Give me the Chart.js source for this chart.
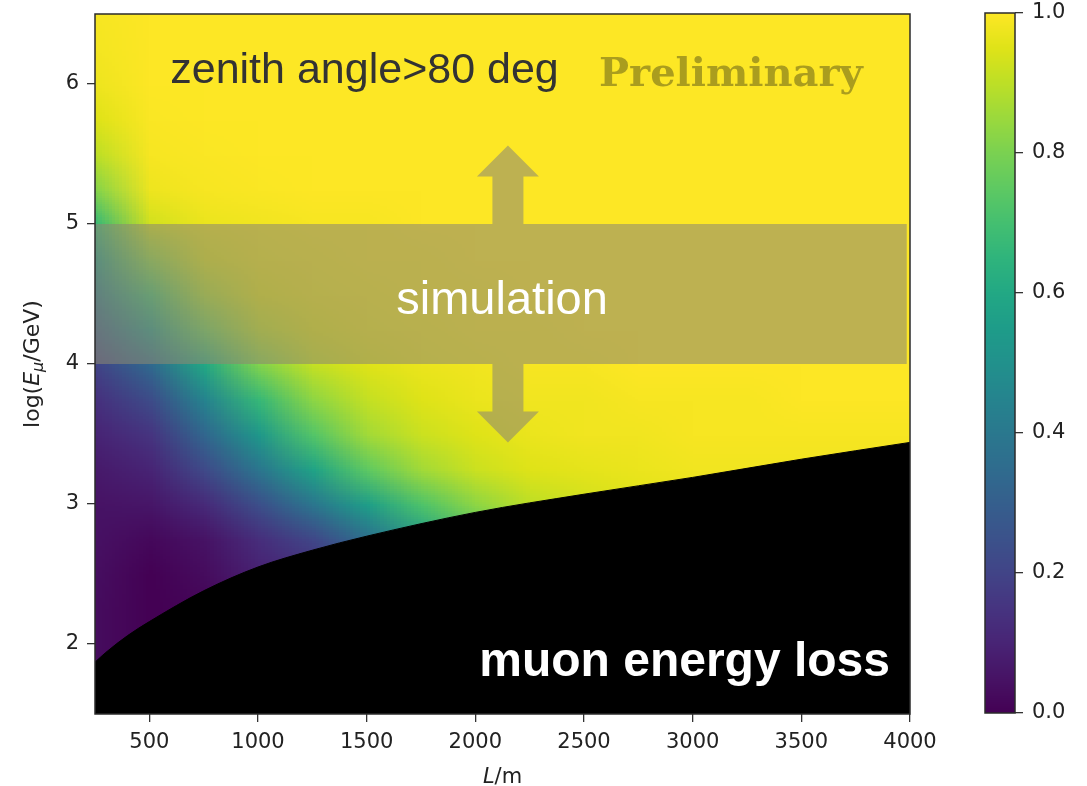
<!DOCTYPE html>
<html>
<head>
<meta charset="utf-8">
<script src="https://cdn.jsdelivr.net/npm/chart.js@4.4.1/dist/chart.umd.min.js"></script>
<style>
  html, body { margin: 0; padding: 0; background: #ffffff; }
  #wrap { position: relative; width: 1087px; height: 786px; }
  #main { position: absolute; left: 0; top: 0; }
  #cbar { position: absolute; left: 975px; top: 0; }
</style>
</head>
<body>
<div id="wrap">
  <canvas id="main" width="1087" height="786"></canvas>
  <canvas id="cbar" width="112" height="786"></canvas>
</div>
<script>
// Path length through rock, L (m): one column per value
const pathLength = [250, 500, 750, 1000, 1250, 1500, 1750, 2000, 2250, 2500, 2750, 3000, 3250, 3500, 3750, 4000];
// log10(E_mu / GeV): one row per value, top row first
const logEnergy = [6.5, 6.25, 6.0, 5.75, 5.5, 5.25, 5.0, 4.75, 4.5, 4.25, 4.0, 3.75, 3.5, 3.25, 3.0, 2.75, 2.5, 2.25, 2.0, 1.75, 1.5];
// Survival fraction on the (logEnergy x pathLength) grid
const survival = [
  [0.99, 1.00, 1.00, 1.00, 1.00, 1.00, 1.00, 1.00, 1.00, 1.00, 1.00, 1.00, 1.00, 1.00, 1.00, 1.00],
  [0.985, 1.00, 1.00, 1.00, 1.00, 1.00, 1.00, 1.00, 1.00, 1.00, 1.00, 1.00, 1.00, 1.00, 1.00, 1.00],
  [0.975, 1.00, 1.00, 1.00, 1.00, 1.00, 1.00, 1.00, 1.00, 1.00, 1.00, 1.00, 1.00, 1.00, 1.00, 1.00],
  [0.95, 0.995, 1.00, 1.00, 1.00, 1.00, 1.00, 1.00, 1.00, 1.00, 1.00, 1.00, 1.00, 1.00, 1.00, 1.00],
  [0.90, 0.99, 0.995, 1.00, 1.00, 1.00, 1.00, 1.00, 1.00, 1.00, 1.00, 1.00, 1.00, 1.00, 1.00, 1.00],
  [0.82, 0.975, 0.99, 0.995, 1.00, 1.00, 1.00, 1.00, 1.00, 1.00, 1.00, 1.00, 1.00, 1.00, 1.00, 1.00],
  [0.67, 0.93, 0.97, 0.98, 0.99, 0.99, 1.00, 1.00, 1.00, 1.00, 1.00, 1.00, 1.00, 1.00, 1.00, 1.00],
  [0.53, 0.82, 0.94, 0.97, 0.98, 0.99, 0.99, 1.00, 1.00, 1.00, 1.00, 1.00, 1.00, 1.00, 1.00, 1.00],
  [0.41, 0.68, 0.87, 0.95, 0.97, 0.98, 0.99, 0.99, 1.00, 1.00, 1.00, 1.00, 1.00, 1.00, 1.00, 1.00],
  [0.30, 0.52, 0.77, 0.90, 0.95, 0.97, 0.98, 0.99, 0.99, 1.00, 1.00, 1.00, 1.00, 1.00, 1.00, 1.00],
  [0.20, 0.34, 0.60, 0.81, 0.91, 0.95, 0.97, 0.98, 0.99, 0.99, 1.00, 1.00, 1.00, 1.00, 1.00, 1.00],
  [0.14, 0.23, 0.45, 0.67, 0.83, 0.91, 0.95, 0.97, 0.98, 0.98, 0.99, 0.99, 0.99, 1.00, 1.00, 1.00],
  [0.10, 0.15, 0.33, 0.53, 0.73, 0.86, 0.92, 0.95, 0.97, 0.98, 0.98, 0.99, 0.99, 0.99, 0.99, 0.99],
  [0.07, 0.10, 0.22, 0.39, 0.58, 0.75, 0.86, 0.92, 0.95, 0.96, 0.97, 0.98, 0.98, 0.98, 0.98, 0.98],
  [0.05, 0.06, 0.12, 0.24, 0.39, 0.56, 0.72, 0.83, 0.90, 0.93, 0.95, 0.96, 0.97, 0.97, 0.97, 0.97],
  [0.045, 0.02, 0.05, 0.13, 0.21, 0.36, 0.54, 0.70, 0.80, 0.87, 0.91, 0.93, 0.94, 0.95, 0.95, 0.95],
  [0.035, 0.00, 0.03, 0.09, 0.12, 0.20, 0.36, 0.50, 0.65, 0.75, 0.82, 0.87, 0.90, 0.92, 0.93, 0.93],
  [0.03, 0.00, 0.01, 0.04, 0.06, 0.10, 0.20, 0.32, 0.45, 0.60, 0.70, 0.77, 0.82, 0.86, 0.88, 0.90],
  [0.03, 0.00, 0.00, 0.01, 0.02, 0.05, 0.10, 0.18, 0.28, 0.40, 0.50, 0.60, 0.70, 0.75, 0.80, 0.83],
  [0.03, 0.00, 0.00, 0.00, 0.00, 0.02, 0.05, 0.10, 0.15, 0.25, 0.35, 0.45, 0.55, 0.62, 0.70, 0.75],
  [0.03, 0.00, 0.00, 0.00, 0.00, 0.00, 0.02, 0.05, 0.08, 0.15, 0.22, 0.30, 0.40, 0.50, 0.58, 0.65]
];
// Minimum energy needed to cross the rock (energy-loss threshold)
const lossL    = [250, 300, 400, 500, 750, 1000, 1250, 1500, 2000, 2500, 3000, 3500, 4000];
const lossLogE = [1.87, 1.94, 2.06, 2.16, 2.38, 2.55, 2.67, 2.77, 2.94, 3.07, 3.19, 3.32, 3.44];

const xTicks  = [500, 1000, 1500, 2000, 2500, 3000, 3500, 4000];
const yTicks  = [2, 3, 4, 5, 6];
const cbTicks = [0.0, 0.2, 0.4, 0.6, 0.8, 1.0];

// viridis colormap stops (0 .. 1 in steps of 0.05)
const VIRIDIS = ['#440154','#471365','#482475','#463480','#414487','#3b528b','#355f8d',
  '#2f6c8e','#2a788e','#25848e','#21918c','#1e9c89','#22a884','#2fb47c','#44bf70',
  '#5ec962','#7ad151','#9bd93c','#bddf26','#dfe318','#fde725'];
const hexRgb = h => [1, 3, 5].map(k => parseInt(h.slice(k, k + 2), 16));
const VIR_RGB = VIRIDIS.map(hexRgb);
function viridis(t) {
  t = Math.max(0, Math.min(1, t));
  const n = VIR_RGB.length - 1, f = t * n;
  const i = Math.min(n - 1, Math.floor(f)), u = f - i;
  const a = VIR_RGB[i], b = VIR_RGB[i + 1];
  return [0, 1, 2].map(k => Math.round(a[k] + (b[k] - a[k]) * u));
}

// One pixel per grid cell; the browser smooths it when scaled onto the plot
const heatImg = document.createElement('canvas');
heatImg.width = pathLength.length;
heatImg.height = logEnergy.length;
(function () {
  const hctx = heatImg.getContext('2d');
  const img = hctx.createImageData(heatImg.width, heatImg.height);
  for (let j = 0; j < logEnergy.length; j++) {
    for (let i = 0; i < pathLength.length; i++) {
      const c = viridis(survival[j][i]);
      const p = (j * heatImg.width + i) * 4;
      img.data[p] = c[0]; img.data[p + 1] = c[1]; img.data[p + 2] = c[2]; img.data[p + 3] = 255;
    }
  }
  hctx.putImageData(img, 0, 0);
})();

const FONT = "'DejaVu Sans', sans-serif";
const TICK_FONT = { family: FONT, size: 21 };
const BAND_COLOR = 'rgba(140,135,115,0.57)';

// keep the plot box fixed: no extra room for overhanging tick labels
function noOverhang(s) {
  s.paddingTop = 0; s.paddingBottom = 0; s.paddingLeft = 0; s.paddingRight = 0;
}

const heatmapLayer = {
  id: 'heatmapLayer',
  beforeDatasetsDraw(chart) {
    const { ctx, chartArea: a, scales: { x, y } } = chart;
    const dL = pathLength[1] - pathLength[0];
    const dE = logEnergy[0] - logEnergy[1];
    const x0 = x.getPixelForValue(pathLength[0] - dL / 2);
    const x1 = x.getPixelForValue(pathLength[pathLength.length - 1] + dL / 2);
    const y0 = y.getPixelForValue(logEnergy[0] + dE / 2);
    const y1 = y.getPixelForValue(logEnergy[logEnergy.length - 1] - dE / 2);
    ctx.save();
    ctx.beginPath();
    ctx.rect(a.left, a.top, a.width, a.height);
    ctx.clip();
    ctx.imageSmoothingEnabled = true;
    ctx.imageSmoothingQuality = 'low';
    ctx.drawImage(heatImg, x0, y0, x1 - x0, y1 - y0);
    ctx.restore();
  }
};

// Simulation band, arrows and labels on top of the map
const annotationLayer = {
  id: 'annotationLayer',
  afterDatasetsDraw(chart) {
    const { ctx, chartArea: a, scales: { x, y } } = chart;
    ctx.save();
    ctx.beginPath();
    ctx.rect(a.left, a.top, a.width, a.height);
    ctx.clip();

    // band over 4 < log E < 5
    const bx0 = x.getPixelForValue(250), bx1 = x.getPixelForValue(3985);
    const by0 = y.getPixelForValue(5), by1 = y.getPixelForValue(4);
    ctx.fillStyle = BAND_COLOR;
    ctx.fillRect(bx0, by0, bx1 - bx0, by1 - by0);

    // up / down arrows
    const ax = x.getPixelForValue(2150);
    const shaft = 15.5, head = 31;
    function arrow(base, neck, tip) {
      const yb = y.getPixelForValue(base), yn = y.getPixelForValue(neck), yt = y.getPixelForValue(tip);
      ctx.beginPath();
      ctx.moveTo(ax - shaft, yb);
      ctx.lineTo(ax - shaft, yn);
      ctx.lineTo(ax - head, yn);
      ctx.lineTo(ax, yt);
      ctx.lineTo(ax + head, yn);
      ctx.lineTo(ax + shaft, yn);
      ctx.lineTo(ax + shaft, yb);
      ctx.closePath();
      ctx.fill();
    }
    arrow(5, 5.34, 5.56);
    arrow(4, 3.66, 3.44);

    // labels
    ctx.textBaseline = 'alphabetic';
    ctx.textAlign = 'center';
    ctx.fillStyle = '#333333';
    ctx.font = "43px 'Liberation Sans', Arial, sans-serif";
    ctx.fillText('zenith angle>80 deg', x.getPixelForValue(1490), y.getPixelForValue(6.007));

    ctx.fillStyle = 'rgb(170,157,30)';
    ctx.font = "bold 40px 'DejaVu Serif', serif";
    ctx.fillText('Preliminary', x.getPixelForValue(3176), y.getPixelForValue(5.985));

    ctx.fillStyle = '#ffffff';
    ctx.font = "47px 'Liberation Sans', Arial, sans-serif";
    ctx.fillText('simulation', x.getPixelForValue(2123), y.getPixelForValue(4.357));

    ctx.textAlign = 'right';
    ctx.font = "bold 48px 'Liberation Sans', Arial, sans-serif";
    ctx.fillText('muon energy loss', x.getPixelForValue(3908), y.getPixelForValue(1.77));
    ctx.restore();
  },
  afterDraw(chart) {
    const { ctx, chartArea: a } = chart;
    ctx.save();
    ctx.strokeStyle = '#2b2b2b';
    ctx.lineWidth = 1.5;
    ctx.strokeRect(a.left, a.top, a.width, a.height);

    // axis titles with italic symbols
    ctx.fillStyle = '#222222';
    ctx.textBaseline = 'alphabetic';
    ctx.textAlign = 'left';
    function runs(parts, cx, cy) {
      let total = 0;
      parts.forEach(p => { ctx.font = p.font; p.w = ctx.measureText(p.t).width; total += p.w; });
      let px = cx - total / 2;
      parts.forEach(p => { ctx.font = p.font; ctx.fillText(p.t, px, cy + (p.dy || 0)); px += p.w; });
    }
    const cx = (a.left + a.right) / 2;
    runs([
      { t: 'L', font: 'italic 21px ' + FONT },
      { t: '/m', font: '21px ' + FONT }
    ], cx, 783);

    ctx.save();
    ctx.translate(39, (a.top + a.bottom) / 2);
    ctx.rotate(-Math.PI / 2);
    runs([
      { t: 'log(', font: '22px ' + FONT },
      { t: 'E', font: 'italic 22px ' + FONT },
      { t: 'μ', font: 'italic 16px ' + FONT, dy: 4 },
      { t: '/GeV)', font: '22px ' + FONT }
    ], 0, 0);
    ctx.restore();
    ctx.restore();
  }
};

new Chart(document.getElementById('main'), {
  type: 'line',
  data: {
    datasets: [{
      data: lossL.map((v, i) => ({ x: v, y: lossLogE[i] })),
      borderColor: '#000000',
      backgroundColor: '#000000',
      borderWidth: 1,
      pointRadius: 0,
      fill: 'start',
      cubicInterpolationMode: 'monotone'
    }]
  },
  options: {
    responsive: false,
    animation: false,
    devicePixelRatio: 1,
    layout: { padding: { left: 0, top: 14, right: 177, bottom: 0 } },
    plugins: { legend: { display: false }, tooltip: { enabled: false } },
    scales: {
      x: {
        type: 'linear', min: 250, max: 4000,
        afterBuildTicks: s => { s.ticks = xTicks.map(v => ({ value: v })); },
        afterFit: s => { s.height = 72; noOverhang(s); },
        ticks: { font: TICK_FONT, color: '#222222', padding: 8, maxRotation: 0, autoSkip: false,
                 callback: v => String(v) },
        grid: { drawOnChartArea: false, drawTicks: true, tickLength: 8, color: '#333333', lineWidth: 1.3 },
        border: { display: false }
      },
      y: {
        type: 'linear', min: 1.5, max: 6.5,
        afterBuildTicks: s => { s.ticks = yTicks.map(v => ({ value: v })); },
        afterFit: s => { s.width = 95; noOverhang(s); },
        ticks: { font: TICK_FONT, color: '#222222', padding: 8, autoSkip: false,
                 callback: v => String(v) },
        grid: { drawOnChartArea: false, drawTicks: true, tickLength: 8, color: '#333333', lineWidth: 1.3 },
        border: { display: false }
      }
    }
  },
  plugins: [heatmapLayer, annotationLayer]
});

// Colour bar: viridis scale 0 .. 1
const colorbarLayer = {
  id: 'colorbarLayer',
  beforeDatasetsDraw(chart) {
    const { ctx, chartArea: a, scales: { y } } = chart;
    ctx.save();
    for (let py = Math.floor(a.top); py < Math.ceil(a.bottom); py++) {
      const c = viridis(y.getValueForPixel(py + 0.5));
      ctx.fillStyle = `rgb(${c[0]},${c[1]},${c[2]})`;
      ctx.fillRect(a.left, py, a.width, 1);
    }
    ctx.strokeStyle = '#2b2b2b';
    ctx.lineWidth = 1.5;
    ctx.strokeRect(a.left, a.top, a.width, a.height);
    ctx.restore();
  }
};

new Chart(document.getElementById('cbar'), {
  type: 'scatter',
  data: { datasets: [] },
  options: {
    responsive: false,
    animation: false,
    devicePixelRatio: 1,
    layout: { padding: { left: 10, top: 13, right: 0, bottom: 73 } },
    plugins: { legend: { display: false }, tooltip: { enabled: false } },
    scales: {
      x: { display: false, min: 0, max: 1 },
      y: {
        position: 'right', min: 0, max: 1,
        afterBuildTicks: s => { s.ticks = cbTicks.map(v => ({ value: v })); },
        afterFit: s => { s.width = 72; noOverhang(s); },
        ticks: { font: TICK_FONT, color: '#222222', padding: 9, callback: v => Number(v).toFixed(1) },
        grid: { drawOnChartArea: false, drawTicks: true, tickLength: 8, color: '#333333', lineWidth: 1.3 },
        border: { display: false }
      }
    }
  },
  plugins: [colorbarLayer]
});
</script>
</body>
</html>
